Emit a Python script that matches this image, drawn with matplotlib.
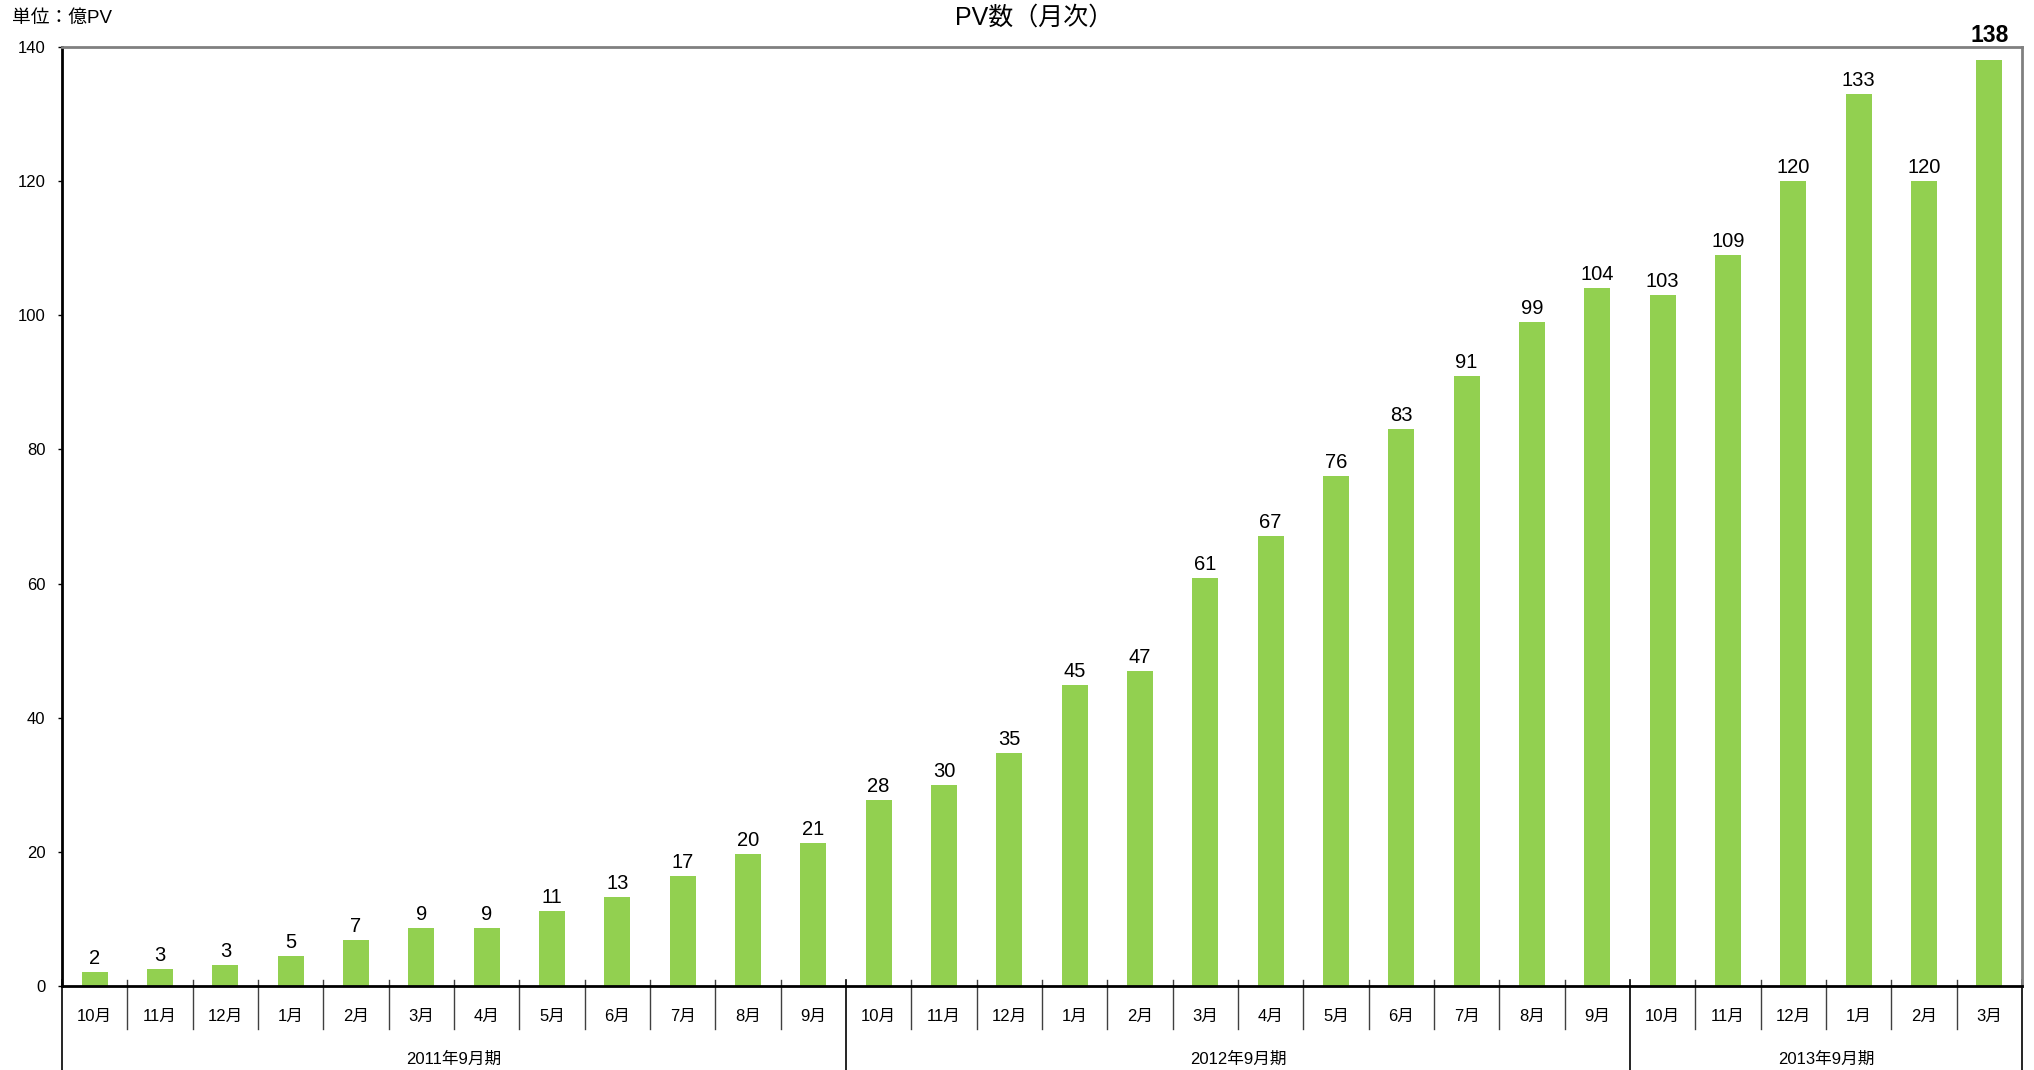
import matplotlib
matplotlib.use("Agg")
import matplotlib.pyplot as plt
import matplotlib.transforms as mtransforms

plt.rcParams['font.family'] = ['Liberation Sans', 'Noto Sans CJK JP', 'DejaVu Sans']

months = ["10月", "11月", "12月", "1月", "2月", "3月", "4月", "5月", "6月", "7月", "8月", "9月",
          "10月", "11月", "12月", "1月", "2月", "3月", "4月", "5月", "6月", "7月", "8月", "9月",
          "10月", "11月", "12月", "1月", "2月", "3月"]
pv = [2.1, 2.5, 3.1, 4.4, 6.8, 8.7, 8.7, 11.2, 13.3, 16.4, 19.7, 21.3,
      27.8, 30.0, 34.8, 44.9, 47.0, 60.9, 67.1, 76.0, 83.0, 90.9, 99.0, 104.0,
      103.0, 109.0, 120.0, 133.0, 120.0, 138.0]
value_labels = ["2", "3", "3", "5", "7", "9", "9", "11", "13", "17", "20", "21",
                "28", "30", "35", "45", "47", "61", "67", "76", "83", "91", "99", "104",
                "103", "109", "120", "133", "120", "138"]
groups = ["2011年9月期", "2012年9月期", "2013年9月期"]
group_sizes = [12, 12, 6]
yticks = [0, 20, 40, 60, 80, 100, 120, 140]

W, H = 2034, 1070
fig = plt.figure(figsize=(W / 100, H / 100), dpi=100)
left, right, bottom_px, top_px = 62, 2022, 986, 47
ax = fig.add_axes([left / W, 1 - bottom_px / H, (right - left) / W, (bottom_px - top_px) / H])

x = list(range(len(pv)))
ax.bar(x, pv, width=0.4, color="#92D050", zorder=2)
ax.set_xlim(-0.5, len(pv) - 0.5)
ax.set_ylim(0, 140)

for i, (v, lab) in enumerate(zip(pv, value_labels)):
    last = i == len(pv) - 1
    ax.text(i, v + (2.0 if last else 0.6), lab, ha="center", va="bottom",
            fontsize=16.5 if last else 14.5, fontweight="bold" if last else "normal",
            color="black", zorder=3, clip_on=False)

ax.set_yticks(yticks)
ax.set_yticklabels([str(t) for t in yticks], fontsize=12)
ax.tick_params(axis="y", direction="out", length=3, width=1, pad=9, colors="black")
ax.set_xticks([])

for s in ["top", "right"]:
    ax.spines[s].set_color("#808080")
    ax.spines[s].set_linewidth(2)
for s in ["left", "bottom"]:
    ax.spines[s].set_color("black")
    ax.spines[s].set_linewidth(2)

trans = mtransforms.blended_transform_factory(ax.transData, ax.transAxes)
axh = bottom_px - top_px
y_in = 6 / axh
y_month_end = -(1029 - bottom_px) / axh
y_bottom = -(H - bottom_px) / axh
y_month_txt = -(1016 - bottom_px) / axh
y_group_txt = -(1059 - bottom_px) / axh

group_edges = [0]
for g in group_sizes:
    group_edges.append(group_edges[-1] + g)

for b in range(len(pv) + 1):
    xb = b - 0.5
    if b in group_edges:
        ax.plot([xb, xb], [y_in, y_bottom], transform=trans, color="black", lw=1.2, clip_on=False)
    else:
        ax.plot([xb, xb], [y_in, y_month_end], transform=trans, color="#404040", lw=1.0, clip_on=False)

for i, m in enumerate(months):
    ax.text(i, y_month_txt, m, transform=trans, ha="center", va="center", fontsize=12)

for g, s, e in zip(groups, group_edges[:-1], group_edges[1:]):
    ax.text((s + e - 1) / 2, y_group_txt, g, transform=trans, ha="center", va="center", fontsize=12)

fig.text(1034 / W, 1 - 18 / H, "PV数（月次）", ha="center", va="center", fontsize=18)
fig.text(12 / W, 1 - 18 / H, "単位：億PV", ha="left", va="center", fontsize=13.5)

fig.savefig("out.png", dpi=100)
